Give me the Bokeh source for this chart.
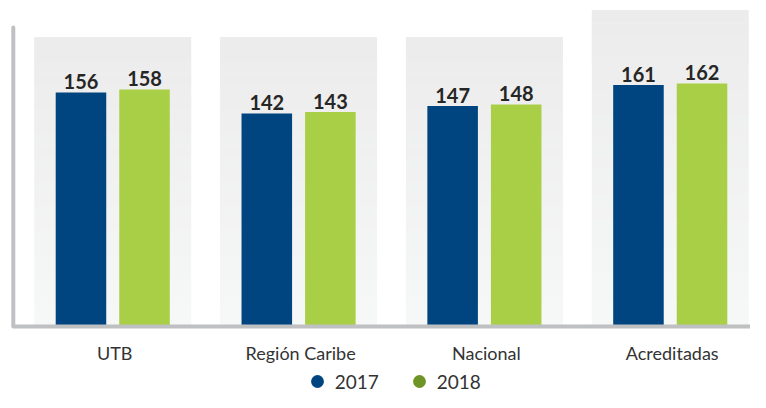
import numpy as np
from bokeh.plotting import figure
from bokeh.models import Range1d, Legend, LegendItem
from bokeh.core.properties import value
from bokeh.embed import file_html
from bokeh.resources import INLINE

# ---- data ----
categories = ["UTB", "Región Caribe", "Nacional", "Acreditadas"]
series = ["2017", "2018"]
values_2017 = [156, 142, 147, 161]
values_2018 = [158, 143, 148, 162]

# ---- style / layout ----
BLUE = "#00457f"
GREEN = "#a9cf46"
GREEN_DOT = "#6e9327"
AXIS = "#bfc0c2"
FONT = "Lato"

W, H = 750, 392
PX_X = 185.83            # pixels per category
X0 = -112.25 / PX_X
X1 = X0 + W / PX_X
PX_Y = 1.5               # pixels per unit
BASE = 326               # pixel row (from top) of zero
Y1 = BASE / PX_Y
Y0 = -(H - BASE) / PX_Y

DODGE = 0.171
BAR_W = 0.272
PANEL_W = 0.845
panel_top = [192.7, 192.7, 192.7, 210.7]

p = figure(width=W, height=H, x_range=Range1d(X0, X1), y_range=Range1d(Y0, Y1),
           output_backend="svg", toolbar_location=None,
           x_axis_location=None, y_axis_location=None, min_border=0)
p.grid.visible = False
p.outline_line_color = None
p.background_fill_color = "white"

# background panels (soft vertical gradient)
n = 24
c_top = np.array([236, 236, 236])
c_bot = np.array([246, 247, 247])
L, R, B, T, C = [], [], [], [], []
for i, t in enumerate(panel_top):
    edges = np.linspace(0, t, n + 1)
    for j in range(n):
        f = j / (n - 1)
        col = (c_bot + (c_top - c_bot) * f).round().astype(int)
        L.append(i - PANEL_W / 2)
        R.append(i + PANEL_W / 2)
        B.append(edges[j])
        T.append(edges[j + 1] + 0.3)
        C.append("#%02x%02x%02x" % tuple(col))
p.quad(left=L, right=R, bottom=B, top=T, fill_color=C, line_color=None)

xs = np.arange(len(categories))
x17 = xs - DODGE
x18 = xs + DODGE
p.vbar(x=x17, top=values_2017, bottom=0, width=BAR_W, fill_color=BLUE, line_color=None)
p.vbar(x=x18, top=values_2018, bottom=0, width=BAR_W, fill_color=GREEN, line_color=None)

lbl = dict(text_align="center", text_baseline="alphabetic", text_font=value(FONT),
           text_font_size="20px", text_font_style="bold", text_color="#262626", y_offset=-11)
p.text(x=x17, y=values_2017, text=[str(v) for v in values_2017], **lbl)
p.text(x=x18, y=values_2018, text=[str(v) for v in values_2018], **lbl)

# axis lines
xa = X0 + 12.8 / PX_X
p.line(x=[xa, xa, X1 + 0.2], y=[(BASE - 27) / PX_Y, 0, 0], line_width=4,
       line_color=AXIS, line_cap="round", line_join="round")

# category labels
p.text(x=xs, y=[0] * len(categories), text=categories, text_align="center",
       text_baseline="alphabetic", text_font=value(FONT), text_font_size="18px",
       text_color="#333333", y_offset=26, x_offset=2)

# legend
r17 = p.scatter(x=[np.nan], y=[np.nan], size=13, fill_color=BLUE, line_color=None)
r18 = p.scatter(x=[np.nan], y=[np.nan], size=13, fill_color=GREEN_DOT, line_color=None)
legend = Legend(items=[LegendItem(label=series[0], renderers=[r17]),
                       LegendItem(label=series[1], renderers=[r18])],
                location=(300.7, -5), orientation="horizontal",
                glyph_width=32, glyph_height=32, label_standoff=2, spacing=24,
                padding=0, margin=0, border_line_color=None, background_fill_alpha=0,
                label_text_font=FONT, label_text_font_size="19px", label_text_color="#333333")
p.add_layout(legend)

open("out.html", "w").write(file_html(p, INLINE))
